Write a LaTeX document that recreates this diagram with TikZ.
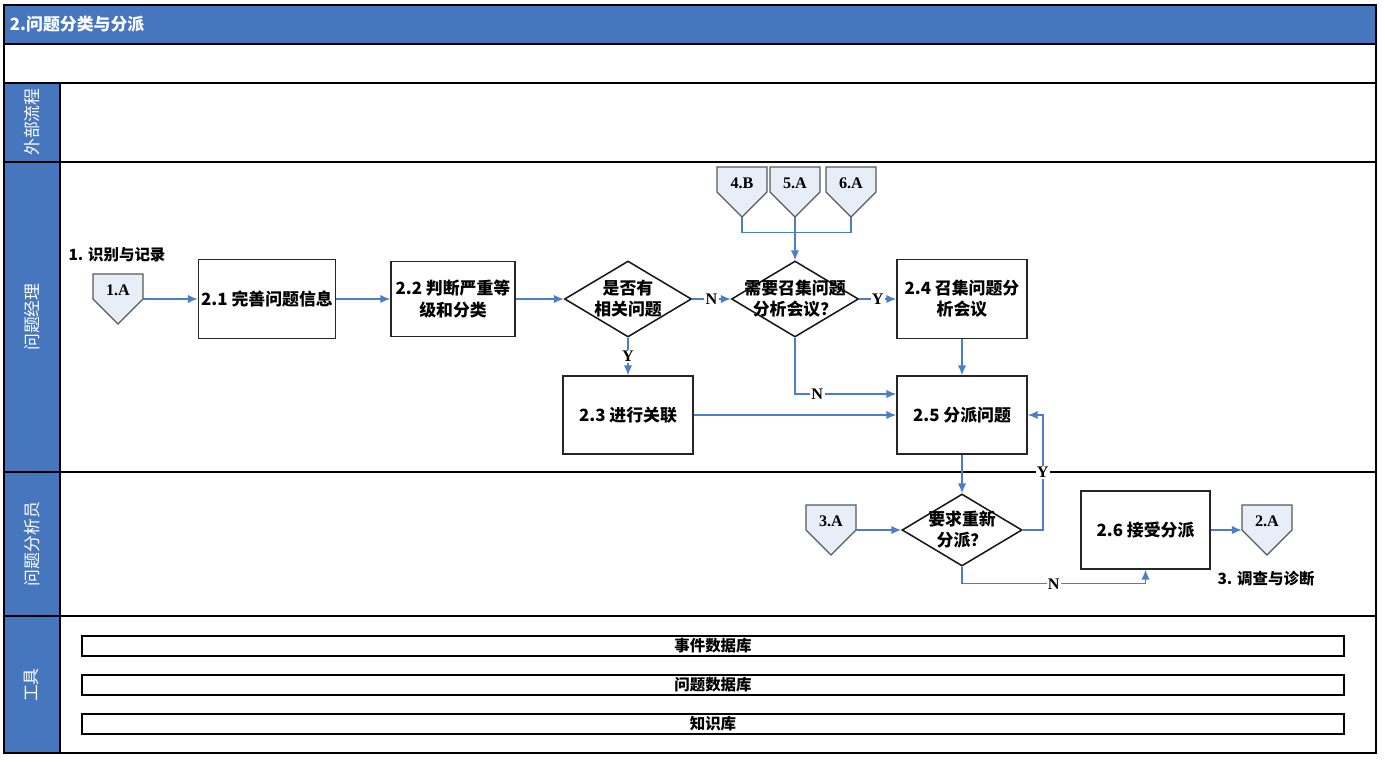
\documentclass[tikz,border=0pt]{standalone}
\usepackage{fontspec}
\setmainfont{Liberation Serif}
\newfontfamily\cjk{Noto Sans CJK SC}
\usetikzlibrary{arrows.meta,calc,shapes.geometric}
\definecolor{hdrblue}{RGB}{70,119,190}
\definecolor{flowblue}{RGB}{74,126,200}
\definecolor{offfill}{RGB}{232,238,248}
\tikzset{>={Latex[length=7pt,width=6pt]}}
\tikzstyle{frame}=[draw=black,line width=1.3pt]
\tikzstyle{proc}=[rectangle,draw=black!85,line width=1.1pt,align=center,inner sep=2pt,font=\cjk\bfseries\fontsize{12}{15}\selectfont]
\tikzstyle{decision}=[diamond,draw=black!90,line width=1.1pt,inner sep=0pt,minimum width=3.175cm,minimum height=1.9cm]
\tikzstyle{dtext}=[align=center,font=\cjk\bfseries\fontsize{12}{15}\selectfont]
\tikzstyle{flow}=[draw=flowblue,line width=1pt,->]
\tikzstyle{flowline}=[draw=flowblue,line width=1pt]
\tikzstyle{yn}=[font=\bfseries\fontsize{11.5}{13}\selectfont,fill=white,inner sep=1pt]
\tikzstyle{offpg}=[draw=black!65,fill=offfill,line width=0.8pt]
\tikzstyle{offpage}=[rectangle,minimum width=1.25cm,minimum height=1.25cm,inner sep=0pt]
\tikzstyle{offtext}=[font=\bfseries\fontsize{11.5}{13}\selectfont,inner sep=0pt]
\tikzstyle{lanetext}=[text=white,rotate=90,font=\cjk\fontsize{12}{14}\selectfont]
\tikzstyle{dbbar}=[rectangle,draw=black,line width=1pt,inner sep=0pt,minimum width=31.55cm,minimum height=0.5cm,font=\cjk\bfseries\fontsize{11}{13}\selectfont]
\tikzstyle{note}=[font=\cjk\bfseries\fontsize{11}{13}\selectfont,inner sep=1pt]
\begin{document}
\begin{tikzpicture}[x=0.025cm,y=-0.025cm]
	\useasboundingbox (0,0) rectangle (1385,762);
	
	% lanes
	\fill[hdrblue] (4,5) rectangle (1376,44);
	\fill[hdrblue] (4,83) rectangle (60,753);
	\draw[frame] (4,5) rectangle (1376,753);
	\foreach \yy in {44,83,162,472,616}
		\draw[frame] (4,\yy) -- (1376,\yy);
	\draw[frame] (60,83) -- (60,753);
	
	\node[anchor=west,text=white,font=\cjk\bfseries\fontsize{12}{14}\selectfont] (title) at (5,24) {2.问题分类与分派};
	\foreach \nm/\yy/\txt in {ext/122/外部流程, mgr/317/问题经理, ana/544/问题分析员, tool/685/工具}
		\node[lanetext] (lane-\nm) at (32,\yy) {\txt};
	
	% off-page connectors
	\foreach \nm/\cx/\ty/\txt in {oa/118/274/1.A, ob4/742/167/4.B, ob5/795/167/5.A, ob6/851/167/6.A, oc3/831/505/3.A, oc2/1267/505/2.A}
	{
		\draw[offpg] (\cx-25,\ty) -- (\cx+25,\ty) -- (\cx+25,\ty+25) -- (\cx,\ty+50) -- (\cx-25,\ty+25) -- cycle;
		\node[offpage] (\nm) at (\cx,\ty+25) {};
		\node[offtext] (\nm-t) at (\cx,\ty+16) {\txt};
	}
	
	\node[note] (from1) at (117,255) {1. 识别与记录};
	\node[note] (to3) at (1266,579) {3. 调查与诊断};
	
	% process steps
	\node[proc, minimum width=3.3cm, minimum height=1.975cm] (t21) at (267,299) {2.1 完善问题信息};
	\node[proc, minimum width=3.1cm, minimum height=1.875cm] (t22) at (453,299) {2.2 判断严重等\\级和分类};
	\node[decision, label={[dtext]center:{是否有\\相关问题}}] (d1) at (628,299) {};
	\node[decision, label={[dtext]center:{需要召集问题\\分析会议？}}] (d2) at (795,299) {};
	\node[proc, minimum width=3.25cm, minimum height=1.975cm] (t24) at (962,299) {2.4 召集问题分\\析会议};
	\node[proc, minimum width=3.25cm, minimum height=1.95cm] (t23) at (628,415) {2.3 进行关联};
	\node[proc, minimum width=3.25cm, minimum height=1.95cm] (t25) at (962,415) {2.5 分派问题};
	\node[decision, minimum width=3cm, minimum height=1.8cm, label={[dtext]center:{要求重新\\分派？}}] (d3) at (962,530) {};
	\node[proc, minimum width=3.225cm, minimum height=1.95cm] (t26) at (1145.5,530) {2.6 接受分派};
	
	% tools
	\node[dbbar] (db1) at (713,646) {事件数据库};
	\node[dbbar] (db2) at (713,685) {问题数据库};
	\node[dbbar] (db3) at (713,724) {知识库};
	
	% connectors
	\draw[flow] (oa.east) -- (t21.west);
	\draw[flow] (t21.east) -- (t22.west);
	\draw[flow] (t22.east) -- (d1.west);
	\draw[flow] (d1.east) -- node[yn] {N} (d2.west);
	\draw[flow] (d2.east) -- node[yn] {Y} (t24.west);
	\draw[flow] (d1.south) -- node[yn] {Y} (t23.north);
	\draw[flow] (d2.south) |- node[yn, pos=0.61] {N} ([yshift=0.525cm]t25.west);
	\draw[flow] (t24.south) -- (t25.north);
	\draw[flow] (t23.east) -- (t25.west);
	\draw[flowline] (ob4.south) -- ++(0,15) -| (ob6.south);
	\draw[flow] (ob5.south) -- (d2.north);
	\draw[flow] (t25.south) -- (d3.north);
	\draw[flow] (oc3.east) -- (d3.west);
	\draw[flow] (d3.east) -| node[yn, pos=0.75] {Y} ([xshift=0.375cm]t25.east) -- (t25.east);
	\draw[flow] (d3.south) |- node[yn, pos=0.75] {N} ([yshift=-0.35cm]t26.south) -- (t26.south);
	\draw[flow] (t26.east) -- (oc2.west);
\end{tikzpicture}
\end{document}
